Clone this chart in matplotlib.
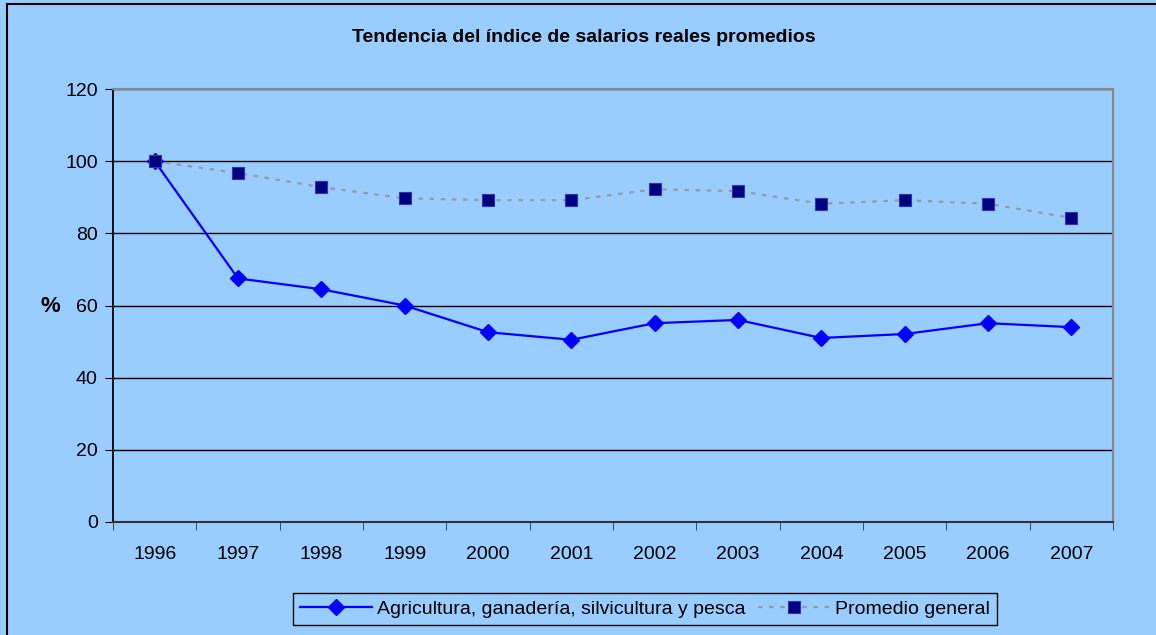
import matplotlib
matplotlib.use("Agg")
import matplotlib.pyplot as plt
from matplotlib.patches import Rectangle
import numpy as np

years = ["1996", "1997", "1998", "1999", "2000", "2001", "2002", "2003", "2004", "2005", "2006", "2007"]
agricultura = [100, 67.5, 64.5, 60.0, 52.6, 50.5, 55.1, 56.0, 51.0, 52.1, 55.1, 54.0]
promedio = [100, 96.7, 92.8, 89.7, 89.2, 89.2, 92.2, 91.7, 88.2, 89.2, 88.2, 84.3]
yticks = [0, 20, 40, 60, 80, 100, 120]

plt.rcParams['font.family'] = ['Liberation Sans', 'DejaVu Sans']
bg = '#99CCFF'

fig = plt.figure(figsize=(11.56, 6.35), dpi=100)
fig.patch.set_facecolor(bg)
W, H = 1156, 635
fig.add_artist(Rectangle((7 / W, -0.05), 1.2, 1 - 4 / H + 0.05, transform=fig.transFigure,
                         fill=False, edgecolor='black', linewidth=1.5))

ax = fig.add_axes([113 / W, 1 - 522 / H, 1000 / W, (522 - 89) / H])
ax.set_facecolor(bg)
x = np.arange(len(years))

ax.plot(x, agricultura, color='#0000FF', linewidth=1.6, marker='D', markersize=8.5,
        markerfacecolor='#0000FF', markeredgecolor='#0000FF',
        label='Agricultura, ganadería, silvicultura y pesca', zorder=3)
ax.plot(x, promedio, color='#999999', linewidth=1.6, linestyle=(0, (2, 3)), marker='s',
        markersize=8, markerfacecolor='#000080', markeredgecolor='#3333AA', markeredgewidth=0.8,
        label='Promedio general', zorder=4)

ax.set_xlim(-0.5, len(years) - 0.5)
ax.set_ylim(0, 120)
ax.set_yticks(yticks)
ax.set_yticklabels([str(v) for v in yticks], fontsize=14)
ax.yaxis.grid(True, color='black', linewidth=1)
ax.set_axisbelow(True)
ax.set_xticks(x)
ax.set_xticklabels(years, fontsize=14)
ax.set_xticks(np.arange(-0.5, len(years), 1), minor=True)
ax.tick_params(axis='x', which='major', length=0, pad=17)
ax.tick_params(axis='x', which='minor', length=6, direction='out', color='#333333')
ax.tick_params(axis='y', length=6, direction='out', pad=5)

ax.spines['top'].set_color('#888888')
ax.spines['right'].set_color('#888888')
ax.spines['top'].set_linewidth(1.5)
ax.spines['right'].set_linewidth(1.5)
ax.spines['left'].set_color('black')
ax.spines['bottom'].set_color('#333333')
ax.spines['left'].set_linewidth(1.3)
ax.spines['bottom'].set_linewidth(1.5)

fig.text(584 / W, 1 - 37 / H, 'Tendencia del índice de salarios reales promedios',
         ha='center', va='center', fontsize=14, fontweight='bold')
fig.text(50 / W, 1 - 307 / H, '%', ha='center', va='center', fontsize=16, fontweight='bold')

leg = fig.legend(loc='center', bbox_to_anchor=(645 / W, 1 - 609 / H), ncol=2, fontsize=14,
                 frameon=True, fancybox=False, edgecolor='black', facecolor=bg,
                 handlelength=3.7, columnspacing=0.6, handletextpad=0.3,
                 borderpad=0.35, framealpha=1)
leg.get_frame().set_linewidth(1.0)

fig.savefig('out.png', dpi=100, facecolor=bg)
